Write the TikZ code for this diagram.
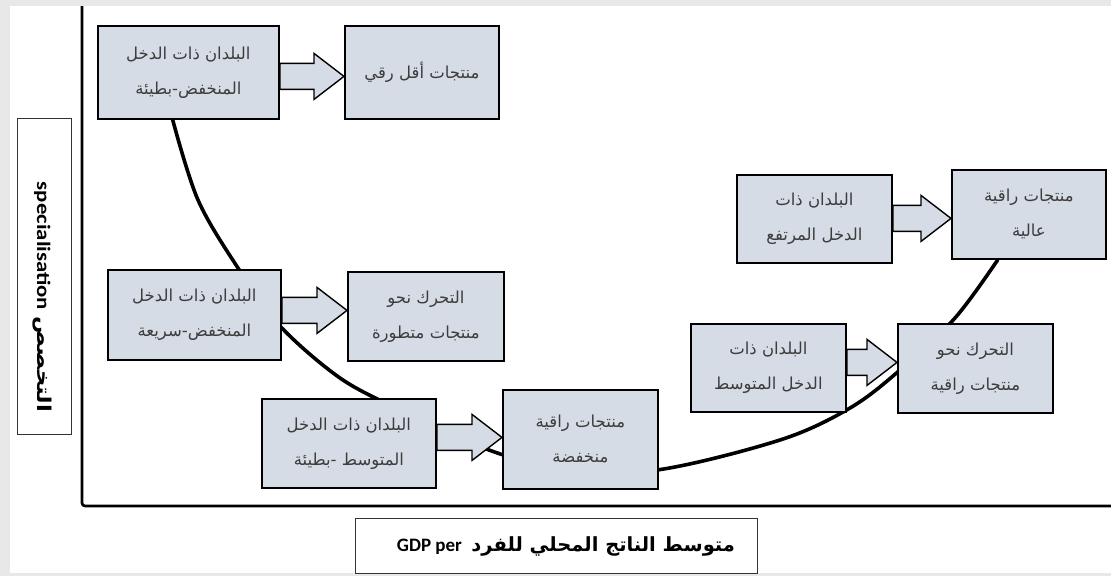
\documentclass[tikz,border=0pt]{standalone}
\usepackage{fontspec}
\setmainfont{Liberation Sans}
\newfontfamily\arabicfont[Script=Arabic]{DejaVu Sans}
\newfontfamily\labelfont{Carlito}
\TeXXeTstate=1
\usetikzlibrary{calc}
\definecolor{boxfill}{RGB}{214,220,229}
\definecolor{bgray}{RGB}{232,232,232}
\definecolor{txtgray}{RGB}{60,60,60}
\newcommand\ar[1]{{\arabicfont\beginR #1\endR}}
\pgfdeclarelayer{bg}
\pgfdeclarelayer{back}
\pgfdeclarelayer{mid}
\pgfsetlayers{bg,back,mid,main}
\tikzset{
  stagebox/.style={draw=black, line width=1.8pt, fill=boxfill, anchor=north west,
    text=txtgray, align=center, font=\fontsize{16.5}{35}\selectfont, inner sep=0pt},
  barrow/.style={draw=black, line width=1.4pt, fill=boxfill, line join=miter},
  curveline/.style={line width=3.6pt, black, line cap=round},
  axisline/.style={line width=2.6pt, black, rounded corners=3pt},
  labelbox/.style={draw=black!80, line width=1pt, fill=white, anchor=north west, inner sep=0pt}
}
% #1 from node, #2 to node, #3 vertical offset of the arrow tip (downwards)
\newcommand\blockarrow[3]{%
  \draw[barrow] let \p1=(#1.east), \p2=($(#2.west)+(0,#3)$) in
    (\x1,{\y2+13pt}) -- ({\x2-30pt},{\y2+13pt}) -- ({\x2-30pt},{\y2+23pt}) -- (\p2)
    -- ({\x2-30pt},{\y2-23pt}) -- ({\x2-30pt},{\y2-13pt}) -- (\x1,{\y2-13pt}) -- cycle;}
\begin{document}
\begin{tikzpicture}[x=1pt,y=-1pt]
\useasboundingbox (0,0) rectangle (1111,576);
\begin{pgfonlayer}{bg}
  \fill[bgray] (0,0) rectangle (1111,576);
  \fill[white] (10,6) rectangle (1111,573);
\end{pgfonlayer}
% axes
\draw[axisline] (82,6) -- (82,506) -- (1111,506);
% axis labels
\node[labelbox, minimum width=54, minimum height=316] (ylab) at (17,118) {};
\node[rotate=-90, font=\fontsize{19}{22}\selectfont] (ytext) at (42,297)
  {\scalebox{1.2}[1]{{\labelfont\bfseries specialisation} {\arabicfont\bfseries\beginR التخصص\endR}}};
\node[labelbox, minimum width=402, minimum height=55] (xlab) at (355,518) {};
\node[font=\fontsize{19}{22}\selectfont] (xtext) at (566,546)
  {{\labelfont\bfseries GDP per}\enspace{\arabicfont\bfseries\fontsize{19.5}{22}\selectfont\beginR متوسط الناتج المحلي للفرد\endR}};
% stage boxes
\node[stagebox, minimum width=181, minimum height=93] (A1) at (97,25)
  {\ar{البلدان ذات الدخل}\\\ar{المنخفض-بطيئة}};
\node[stagebox, minimum width=154, minimum height=93] (B1) at (344,25)
  {\ar{منتجات أقل رقي}};
\node[stagebox, minimum width=173, minimum height=90] (A2) at (107,269)
  {\ar{البلدان ذات الدخل}\\\ar{المنخفض-سريعة}};
\node[stagebox, minimum width=156, minimum height=89] (B2) at (347,271)
  {\ar{التحرك نحو}\\\ar{منتجات متطورة}};
\node[stagebox, minimum width=174, minimum height=89] (A3) at (261,398)
  {\ar{البلدان ذات الدخل}\\\ar{المتوسط -بطيئة}};
\node[stagebox, minimum width=155, minimum height=99] (B3) at (502,389)
  {\ar{منتجات راقية}\\\ar{منخفضة}};
\node[stagebox, minimum width=155, minimum height=88] (A4) at (736,174)
  {\ar{البلدان ذات}\\\ar{الدخل المرتفع}};
\node[stagebox, minimum width=154, minimum height=89] (B4) at (951,169)
  {\ar{منتجات راقية}\\\ar{عالية}};
\node[stagebox, minimum width=155, minimum height=88] (A5) at (690,323)
  {\ar{البلدان ذات}\\\ar{الدخل المتوسط}};
\node[stagebox, minimum width=155, minimum height=89] (B5) at (897,323)
  {\ar{التحرك نحو}\\\ar{منتجات راقية}};
% block arrows
\begin{pgfonlayer}{mid}
  \blockarrow{A1}{B1}{4}
  \blockarrow{A2}{B2}{-6}
  \blockarrow{A3}{B3}{-2}
  \blockarrow{A4}{B4}{4}
  \blockarrow{A5}{B5}{-6}
\end{pgfonlayer}
% curve
\coordinate (cstart) at ($(A1.south west)!0.414!(A1.south east)$);
\coordinate (cend) at ($(B4.south west)!0.30!(B4.south east)$);
\begin{pgfonlayer}{back}
  \draw[curveline] plot[smooth, tension=0.55] coordinates {
    (cstart) (198,200) (238,268) (280,326) (340,378) (400,410) (470,443)
    (560,470) (657,470) (780,440) (850,408) (900,370) (955,318) (cend)};
\end{pgfonlayer}
\end{tikzpicture}
\end{document}
